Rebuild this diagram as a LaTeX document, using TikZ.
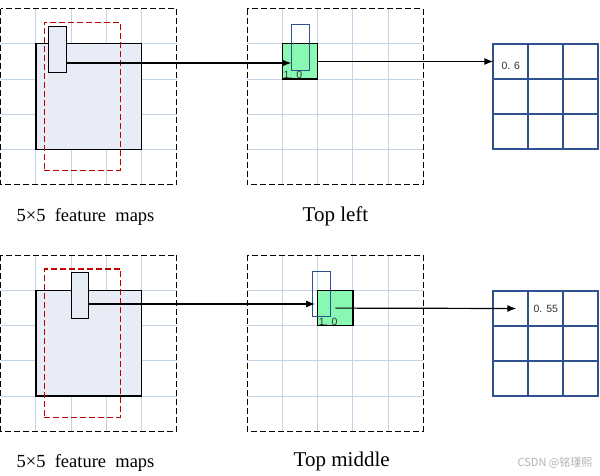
\documentclass[tikz,border=0pt]{standalone}
\usepackage{fontspec}
\setmainfont{Liberation Serif}
\newfontfamily\cellfont{Liberation Sans}
\newfontfamily\cjkfont{Noto Sans CJK SC}
\usetikzlibrary{arrows.meta, calc}
\definecolor{mapfill}{HTML}{E7ECF6}
\definecolor{gridblue}{HTML}{C2D3EA}
\definecolor{dashred}{HTML}{C00000}
\definecolor{hitgreen}{HTML}{88F8B3}
\definecolor{outblue}{HTML}{2F528F}

\begin{document}
\begin{tikzpicture}[x=1pt, y=-1pt, >={Latex[length=9pt,width=7pt]},
    box/.style={rectangle, draw, line width=1.2pt, inner sep=0pt, outer sep=0pt},
    gridline/.style={gridblue, line width=1pt},
    frame/.style={draw, line width=1.2pt, dash pattern=on 6pt off 3pt},
    reddash/.style={box, draw=dashred, line width=1.2pt, dash pattern=on 6pt off 3pt},
    cell/.style={box, draw=outblue, line width=2pt, minimum size=35pt},
    num/.style={font=\cellfont\fontsize{10.5}{11}\selectfont, text=black!80, inner sep=1pt},
    caption/.style={anchor=base, inner sep=0pt}]
\useasboundingbox (0,0) rectangle (600,476);

% the four 5x5 panels
\foreach \px/\py in {0.7/8.7, 247.3/8.7, 0.7/255.3, 247.3/255.3} {
    \foreach \k in {1,...,4} {
        \draw[gridline] (\px+35.2*\k, \py) -- (\px+35.2*\k, \py+176);
        \draw[gridline] (\px, \py+35.2*\k) -- (\px+176, \py+35.2*\k);
    }
    \draw[frame] (\px,\py) rectangle (\px+176,\py+176);
}

% top left
\node[box, fill=mapfill, minimum size=105.6pt] (mapA) at (88.7,96.7) {};
\node[reddash, minimum width=76pt, minimum height=148pt] (winA) at (82.3,96.3) {};
\node[box, fill=mapfill, minimum width=18pt, minimum height=46pt] (kerA) at (57.3,49.3) {};
\node[box, fill=hitgreen, minimum size=35.2pt] (hitA) at (300.1,61.5) {};
\node[box, draw=outblue, minimum width=18pt, minimum height=46pt] (poolA) at (300.3,47.3) {};
\node[num, anchor=south west] (valA) at ([yshift=-1pt]hitA.south west) {1. 0};
\foreach \r in {1,2,3}
    \foreach \c in {1,2,3}
        \node[cell] (outA\r\c) at (475.8+35*\c, 26.5+35*\r) {};
\node[num] (resA) at ([yshift=-4.5pt]outA11.center) {0. 6};

\coordinate (srcA) at ([yshift=-13.7pt]kerA.east);
\draw[->, line width=1.2pt] (srcA) -- (srcA -| poolA.west);
\draw[->, line width=1.2pt] (hitA.east) -- (outA11.west);

% top middle
\node[box, fill=mapfill, minimum size=105.6pt] (mapB) at (88.7,343.1) {};
\node[reddash, minimum width=76pt, minimum height=148.3pt] (winB) at (82.3,343.2) {};
\node[box, fill=mapfill, minimum width=17.4pt, minimum height=46pt] (kerB) at (80,295.3) {};
\node[box, fill=hitgreen, minimum size=35.2pt] (hitB) at (335.3,308.1) {};
\node[box, draw=outblue, minimum width=18pt, minimum height=45pt] (poolB) at (321.3,293.8) {};
\node[num, anchor=south west] (valB) at ([yshift=-1pt]hitB.south west) {1. 0};
\foreach \r in {1,2,3}
    \foreach \c in {1,2,3}
        \node[cell] (outB\r\c) at (475.8+35*\c, 273.5+35*\r) {};
\node[num] (resB) at (outB12.center) {0. 55};

\coordinate (srcB) at ([yshift=-8.7pt]kerB.east);
\draw[->, line width=1.2pt, shorten >=2.5pt] (srcB) -- (srcB -| hitB.west);
\draw[->, line width=1.2pt] (hitB.center) -- ([xshift=5.5pt]outB11.center);

\node[caption, font=\fontsize{18.5}{20}\selectfont] (capA) at (85.5,221) {5×5\ \ feature\ \ maps};
\node[caption, font=\fontsize{21}{24}\selectfont] (titleA) at (335.5,221.5) {Top left};
\node[caption, font=\fontsize{18.5}{20}\selectfont] (capB) at (85.5,467.5) {5×5\ \ feature\ \ maps};
\node[caption, font=\fontsize{21}{24}\selectfont] (titleB) at (341.7,466.7) {Top middle};
\node[font=\cjkfont\fontsize{11}{12}\selectfont, text=black!30] (mark) at (555,463) {CSDN @铭瑾熙};
\end{tikzpicture}
\end{document}
